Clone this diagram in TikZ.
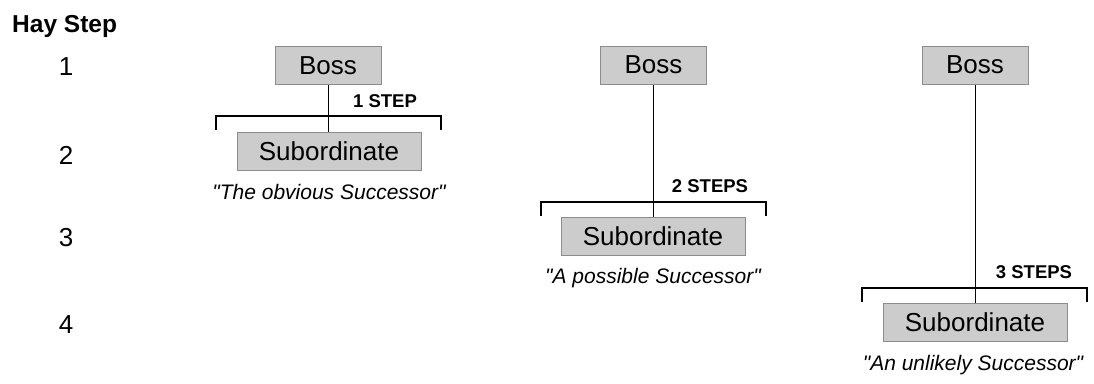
\documentclass[tikz,border=0pt]{standalone}
\usepackage{fontspec}
\setmainfont{Liberation Sans}
\newfontfamily\plainsans{Liberation Sans}
\begin{document}
\begin{tikzpicture}[x=1pt,y=-1pt,
  box/.style={draw=black!45,fill=black!20,line width=1pt,inner sep=0pt,font=\fontsize{26}{28}\selectfont},
  bossbox/.style={box,minimum width=106pt,minimum height=38pt},
  subbox/.style={box,minimum width=184pt,minimum height=38pt},
  stem/.style={line width=1pt,black},
  brace/.style={line width=1.8pt,black},
  steplabel/.style={font=\bfseries\fontsize{18.5}{20}\selectfont,inner sep=0pt},
  caption/.style={font=\plainsans\itshape\fontsize{21}{23}\selectfont,inner sep=0pt},
  num/.style={font=\fontsize{26}{28}\selectfont,inner sep=0pt}]
\useasboundingbox (0,0) rectangle (1094,383);
\node[anchor=base west,inner sep=0pt,font=\bfseries\fontsize{24.5}{26}\selectfont] (title) at (12,32) {Hay Step};
\node[num] (n1) at (66,67) {1};
\node[num] (n2) at (66,155) {2};
\node[num] (n3) at (66,238) {3};
\node[num] (n4) at (66,325) {4};
% diagram 1
\node[bossbox] (b1) at (328,65.5) {Boss};
\node[subbox] (s1) at (329,151) {Subordinate};
\draw[stem] (b1.south) -- (b1.south |- s1.north);
\coordinate (l1) at (216,130);
\coordinate (r1) at (441,130);
\draw[brace] (l1) -- ++(0,-14) -- ++(225,0) -- (r1);
\node[steplabel] (t1) at (385,101) {1 STEP};
\node[caption] (c1) at (329,192) {"The obvious Successor"};
% diagram 2
\node[bossbox] (b2) at (653.5,65) {Boss};
\node[subbox] (s2) at (653,236) {Subordinate};
\draw[stem] (b2.south) -- (b2.south |- s2.north);
\coordinate (l2) at (541,216);
\coordinate (r2) at (766,216);
\draw[brace] (l2) -- ++(0,-14) -- ++(225,0) -- (r2);
\node[steplabel] (t2) at (710,186) {2 STEPS};
\node[caption] (c2) at (653,278) {"A possible Successor"};
% diagram 3
\node[bossbox] (b3) at (975,65) {Boss};
\node[subbox] (s3) at (975,322.5) {Subordinate};
\draw[stem] (b3.south) -- (b3.south |- s3.north);
\coordinate (l3) at (862,302);
\coordinate (r3) at (1087,302);
\draw[brace] (l3) -- ++(0,-14) -- ++(225,0) -- (r3);
\node[steplabel] (t3) at (1034,272) {3 STEPS};
\node[caption] (c3) at (973,365) {"An unlikely Successor"};
\end{tikzpicture}
\end{document}
